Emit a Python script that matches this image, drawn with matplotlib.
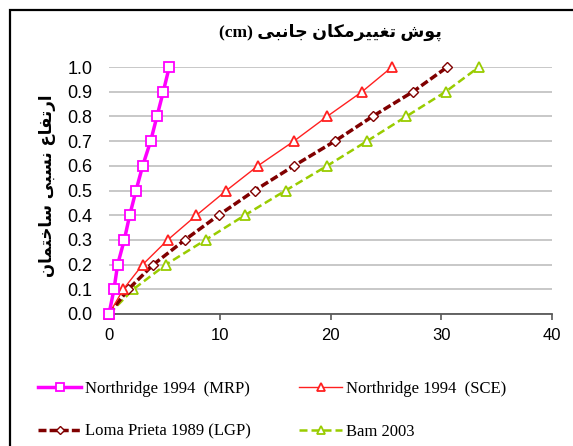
import numpy as np
import matplotlib
matplotlib.use('Agg')
import matplotlib.pyplot as plt
from matplotlib.patches import Rectangle

# داده‌ها (خوانده شده از نمودار)
heights = [0.0, 0.1, 0.2, 0.3, 0.4, 0.5, 0.6, 0.7, 0.8, 0.9, 1.0]
mrp = [0, 0.45, 0.78, 1.38, 1.87, 2.44, 3.04, 3.76, 4.33, 4.90, 5.44]
sce = [0, 1.29, 3.04, 5.30, 7.90, 10.60, 13.45, 16.70, 19.70, 22.85, 25.55]
lgp = [0, 1.74, 4.00, 6.85, 9.90, 13.15, 16.70, 20.40, 23.80, 27.45, 30.55]
bam = [0, 2.19, 5.14, 8.72, 12.27, 15.95, 19.70, 23.30, 26.85, 30.40, 33.40]

x_ticks = [0, 10, 20, 30, 40]
y_ticks = heights

title_fa = "پوش تغییرمکان جانبی"
ylabel_fa = "ارتفاع نسبی ساختمان"

# شکل‌دهی ساده حروف فارسی (matplotlib خودش اتصال حروف را انجام نمی‌دهد)
FORMS = {
    'ا': ('\uFE8D', '\uFE8E', None, None),
    'ب': ('\uFE8F', '\uFE90', '\uFE91', '\uFE92'),
    'پ': ('\uFB56', '\uFB57', '\uFB58', '\uFB59'),
    'ت': ('\uFE95', '\uFE96', '\uFE97', '\uFE98'),
    'ج': ('\uFE9D', '\uFE9E', '\uFE9F', '\uFEA0'),
    'خ': ('\uFEA5', '\uFEA6', '\uFEA7', '\uFEA8'),
    'ر': ('\uFEAD', '\uFEAE', None, None),
    'س': ('\uFEB1', '\uFEB2', '\uFEB3', '\uFEB4'),
    'ش': ('\uFEB5', '\uFEB6', '\uFEB7', '\uFEB8'),
    'ع': ('\uFEC9', '\uFECA', '\uFECB', '\uFECC'),
    'غ': ('\uFECD', '\uFECE', '\uFECF', '\uFED0'),
    'ف': ('\uFED1', '\uFED2', '\uFED3', '\uFED4'),
    'ک': ('\uFB8E', '\uFB8F', '\uFB90', '\uFB91'),
    'م': ('\uFEE1', '\uFEE2', '\uFEE3', '\uFEE4'),
    'ن': ('\uFEE5', '\uFEE6', '\uFEE7', '\uFEE8'),
    'و': ('\uFEED', '\uFEEE', None, None),
    'ی': ('\uFBFC', '\uFBFD', '\uFBFE', '\uFBFF'),
}


def dual(c):
    return c in FORMS and FORMS[c][2] is not None


def shape_fa(s):
    out = []
    for i, c in enumerate(s):
        if c not in FORMS:
            out.append(c)
            continue
        prev = s[i - 1] if i > 0 else ''
        nxt = s[i + 1] if i < len(s) - 1 else ''
        to_prev = dual(prev)
        to_next = dual(c) and nxt in FORMS
        iso, fin, ini, med = FORMS[c]
        if to_prev and to_next:
            out.append(med)
        elif to_prev:
            out.append(fin)
        elif to_next:
            out.append(ini)
        else:
            out.append(iso)
    return ''.join(out)[::-1]


W, H = 573, 446
fig = plt.figure(figsize=(W / 100, H / 100), dpi=100)
ax = fig.add_axes([109 / W, 1 - 314 / H, (552 - 109) / W, (314 - 67) / H])

l_mrp, = ax.plot(mrp, heights, color='#FF00FF', lw=2.5, marker='s', ms=7,
                 mfc='white', mec='#FF00FF', mew=1.3, clip_on=False, zorder=5,
                 label='Northridge 1994  (MRP)')
l_sce, = ax.plot(sce, heights, color='#FF2020', lw=1.0, marker='^', ms=7,
                 mfc='white', mec='#FF2020', mew=1.3, clip_on=False, zorder=4,
                 label='Northridge 1994  (SCE)')
l_lgp, = ax.plot(lgp, heights, color='#800000', lw=2.5, ls=(0, (2.3, 0.9)),
                 marker='D', ms=5, mfc='white', mec='#800000', mew=1.0,
                 clip_on=False, zorder=3, label='Loma Prieta 1989 (LGP)')
l_bam, = ax.plot(bam, heights, color='#99CC00', lw=1.8, ls=(0, (3.2, 1.6)),
                 marker='^', ms=7, mfc='white', mec='#99CC00', mew=1.3,
                 clip_on=False, zorder=2, label='Bam 2003')

ax.set_xlim(0, 40)
ax.set_ylim(0, 1.0)
ax.set_xticks(x_ticks)
ax.set_yticks(y_ticks)
ax.set_yticklabels([f'{v:.1f}' for v in y_ticks])

for s in ['top', 'right', 'left']:
    ax.spines[s].set_visible(False)
ax.spines['bottom'].set_color('#595959')
ax.spines['bottom'].set_linewidth(1.3)
ax.spines['bottom'].set_zorder(1)

ax.yaxis.grid(True, color='#BFBFBF', lw=1.2)
ax.set_axisbelow(True)
ax.tick_params(axis='x', direction='out', length=4, width=1.2, color='#595959',
               labelsize=12, pad=6)
ax.tick_params(axis='y', length=0, labelsize=13, pad=12)
for lab in ax.get_xticklabels() + ax.get_yticklabels():
    lab.set_family('Liberation Sans')

fig.text(330 / W, 1 - 32 / H, '(cm) ' + shape_fa(title_fa), ha='center', va='center',
         fontsize=12.5, fontweight='bold', family=['Liberation Serif', 'DejaVu Sans'])
fig.text(47 / W, 1 - 186 / H, shape_fa(ylabel_fa), rotation=90, ha='center',
         va='center', fontsize=12, fontweight='bold', family=['DejaVu Sans'])

fig.legend(handles=[l_mrp, l_lgp, l_sce, l_bam], ncol=2, loc='upper left',
           bbox_to_anchor=(38 / W, 1 - 381 / H), frameon=False,
           prop={'family': 'Liberation Serif', 'size': 12},
           handlelength=2.6, handletextpad=0.2, columnspacing=2.9,
           labelspacing=1.6, borderpad=0, borderaxespad=0, markerscale=0.8)

# قاب بیرونی
fig.patches.append(Rectangle((9.5 / W, -0.1), 1.2, 1.1 - 9.5 / H,
                             transform=fig.transFigure, fill=False,
                             ec='black', lw=1.6))

fig.savefig('out.png', dpi=100)
